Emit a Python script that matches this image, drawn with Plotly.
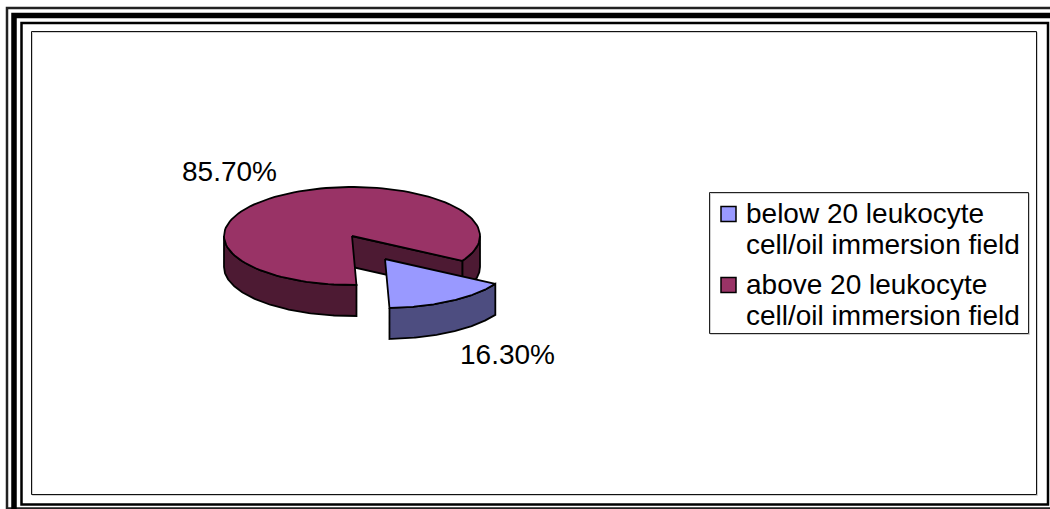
import numpy as np
import plotly.graph_objects as go

# chart values, as printed on the labels
categories = ['below 20 leukocyte<br>cell/oil immersion field',
              'above 20 leukocyte<br>cell/oil immersion field']
values = [16.3, 85.7]
labels = ['16.30%', '85.70%']

W, H = 1050, 509
BLUE, BLUE_DARK = '#9999ff', '#4d4d80'
RED, RED_DARK = '#993366', '#4d1a33'
FONT = 'Liberation Sans'
FONT_SIZE = 28

# the tilted pie: ellipse centre, radii, wall height, explosion of first slice
CX, CY, RX, RY, DEPTH = 352, 236, 128, 49, 31
EXPLODE = (33, 23)
START = -88  # degrees, the first slice runs up from here (counter clockwise)

fig = go.Figure()


def add_poly(xs, ys, color):
    fig.add_trace(go.Scatter(x=xs, y=ys, mode='lines', fill='toself', fillcolor=color,
                             line=dict(color='black', width=1.8), showlegend=False,
                             hoverinfo='skip'))


def arc(a0, a1, cx, cy):
    t = np.radians(np.linspace(a0, a1, 120))
    return cx + RX * np.cos(t), cy - RY * np.sin(t)


def add_wall(a0, a1, cx, cy, color):
    xs, ys = arc(a0, a1, cx, cy)
    add_poly(np.r_[xs, xs[::-1], xs[0]], np.r_[ys, ys[::-1] + DEPTH, ys[0]], color)


sweep = 360 * values[0] / sum(values)
a0, a1 = START, START + sweep

# red slice: walls first, then the top
add_wall(a1, 0, CX, CY, RED_DARK)
add_wall(180, 360 + a0, CX, CY, RED_DARK)
x_cut, y_cut = arc(a1, a1, CX, CY)
add_poly([CX, x_cut[0], x_cut[0], CX, CX], [CY, y_cut[0], y_cut[0] + DEPTH, CY + DEPTH, CY],
         RED_DARK)
x_top, y_top = arc(a1, 360 + a0, CX, CY)
add_poly(np.r_[CX, x_top, CX], np.r_[CY, y_top, CY], RED)

# blue slice, pulled out of the pie
bx, by = CX + EXPLODE[0], CY + EXPLODE[1]
add_wall(a0, a1, bx, by, BLUE_DARK)
x_top, y_top = arc(a0, a1, bx, by)
add_poly(np.r_[bx, x_top, bx], np.r_[by, y_top, by], BLUE)

# legend drawn by hand, the native one can't do the tight line spacing
legend_y = [214, 285]
fig.add_trace(go.Scatter(x=[728.5, 728.5], y=legend_y, mode='markers', showlegend=False,
                         hoverinfo='skip',
                         marker=dict(symbol='square', size=15, color=[BLUE, RED],
                                     line=dict(color='black', width=1.5))))

annotations = [
    dict(x=229.5, y=171, text=labels[1]),
    dict(x=507, y=354, text=labels[0]),
]
for name, y in zip(categories, legend_y):
    for i, line in enumerate(name.split('<br>')):
        annotations.append(dict(x=744, y=y - 1 + 31 * i, text=line, xanchor='left'))
for a in annotations:
    a.update(xref='x', yref='y', showarrow=False, font=dict(size=FONT_SIZE, family=FONT))

# triple border, its right and bottom parts partly fall off the picture
frame = [(7, 8, 1060, 508.5, 2.5, '#222222'),
         (14, 15.5, 1060, 520, 5.5, 'black'),
         (21.5, 23, 1048, 504.5, 2.5, 'black'),
         (32.5, 32.5, 1037.5, 495.5, 1, '#d0d0d0'),
         (31.5, 31.5, 1036.5, 494.5, 1, '#111111'),
         (710.5, 193.5, 1029.5, 334.5, 1, '#d0d0d0'),
         (709.5, 192.5, 1028.5, 333.5, 1, '#222222')]
shapes = [dict(type='rect', xref='x', yref='y', x0=x0, y0=y0, x1=x1, y1=y1,
               line=dict(color=color, width=width), layer='below')
          for x0, y0, x1, y1, width, color in frame]

fig.update_layout(
    width=W, height=H,
    margin=dict(l=0, r=0, t=0, b=0),
    paper_bgcolor='white', plot_bgcolor='white',
    font=dict(family=FONT, color='black'),
    xaxis=dict(range=[0, W], visible=False, fixedrange=True),
    yaxis=dict(range=[H, 0], visible=False, fixedrange=True),
    shapes=shapes,
    annotations=annotations,
    showlegend=False,
)

# page margin would push the picture 8px down and right
fig.write_html("out.html", config=dict(displayModeBar=False),
               post_script="document.body.style.margin='0';")
